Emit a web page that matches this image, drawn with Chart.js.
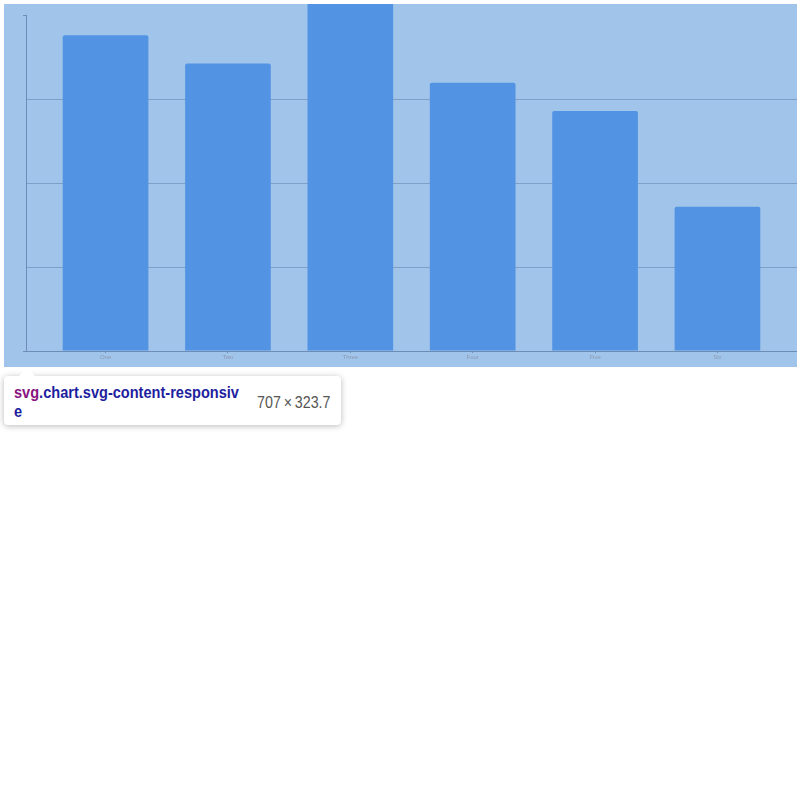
<!DOCTYPE html>
<html>
<head>
<meta charset="utf-8">
<script src="https://cdn.jsdelivr.net/npm/chart.js@4.4.1/dist/chart.umd.min.js"></script>
<style>
  html, body { margin: 0; padding: 0; background: #ffffff; width: 800px; height: 793px; overflow: hidden; }
  #wrap { position: absolute; left: 4px; top: 4px; width: 793px; height: 363px; background: #a1c4ea; }
  #c { display: block; }
  #tip {
    position: absolute; left: 4px; top: 376px; width: 337px; height: 49px;
    background: #ffffff; border-radius: 4px;
    box-shadow: 0 1px 6px rgba(0,0,0,0.28);
    font-family: "Liberation Sans", Arial, Helvetica, sans-serif;
  }
  #tip:before {
    content: ""; position: absolute; left: 14px; top: -8px;
    width: 0; height: 0;
    border-left: 9px solid transparent; border-right: 9px solid transparent;
    border-bottom: 9px solid #ffffff;
  }
  #tipName {
    position: absolute; left: 10px; top: 7px; font-weight: bold; font-size: 16px; line-height: 19px;
    color: #1e1e9e; transform: scaleX(0.91); transform-origin: left top; white-space: nowrap;
  }
  #tipName .tag { color: #881280; }
  #tipSize {
    position: absolute; right: 11px; top: 17px; font-size: 16px; line-height: 19px; color: #555555;
    transform: scaleX(0.89); transform-origin: right top; white-space: nowrap;
  }
</style>
</head>
<body>
<div id="wrap"><canvas id="c" width="793" height="363"></canvas></div>
<div id="tip">
  <div id="tipName"><span class="tag">svg</span>.chart.svg-content-responsiv<br>e</div>
  <div id="tipSize">707&#8201;×&#8201;323.7</div>
</div>
<script>
const categories = ['One', 'Two', 'Three', 'Four', 'Five', 'Six'];
const values = [94.0, 85.6, 105, 79.8, 71.4, 42.9];
const yTicks = [0, 25, 50, 75, 100];

const barColor = '#5293e3';
const gridColor = '#7d9fc8';
const axisColor = '#6d8db6';
const labelColor = '#8a9ab2';

new Chart(document.getElementById('c'), {
  type: 'bar',
  data: {
    datasets: [{
      data: values.map((v, i) => ({ x: i, y: v })),
      backgroundColor: barColor,
      borderWidth: 0,
      borderRadius: 2,
      barPercentage: 0.7,
      categoryPercentage: 1.0,
      clip: false
    }]
  },
  options: {
    responsive: false,
    animation: false,
    devicePixelRatio: 1,
    layout: { padding: { top: 11, left: 0, right: 0, bottom: 0 } },
    plugins: { legend: { display: false }, tooltip: { enabled: false } },
    scales: {
      x: {
        type: 'linear',
        min: -0.65,
        max: 5.65,
        offset: false,
        afterBuildTicks: (s) => { s.ticks = categories.map((c, i) => ({ value: i })); },
        afterFit: (s) => { s.height = 16; },
        grid: { display: true, offset: false, drawOnChartArea: false, drawTicks: true, tickLength: 2, color: axisColor, lineWidth: 1 },
        border: { display: true, color: axisColor, width: 1 },
        ticks: {
          autoSkip: false, maxRotation: 0, padding: 1,
          color: labelColor,
          font: { size: 6, family: 'Liberation Sans, Arial, sans-serif' },
          callback: (v) => categories[v]
        }
      },
      y: {
        type: 'linear',
        min: 0,
        max: 100,
        afterBuildTicks: (s) => { s.ticks = yTicks.map(v => ({ value: v })); },
        afterFit: (s) => { s.width = 22; },
        grid: {
          display: true,
          drawTicks: true,
          tickLength: 3,
          lineWidth: 1,
          color: (ctx) => (ctx.tick && ctx.tick.value > 0 && ctx.tick.value < 100) ? gridColor : 'rgba(0,0,0,0)',
          tickColor: (ctx) => (ctx.tick && (ctx.tick.value === 0 || ctx.tick.value === 100)) ? axisColor : 'rgba(0,0,0,0)'
        },
        border: { display: true, color: axisColor, width: 1 },
        ticks: { display: false }
      }
    }
  }
});
</script>
</body>
</html>
